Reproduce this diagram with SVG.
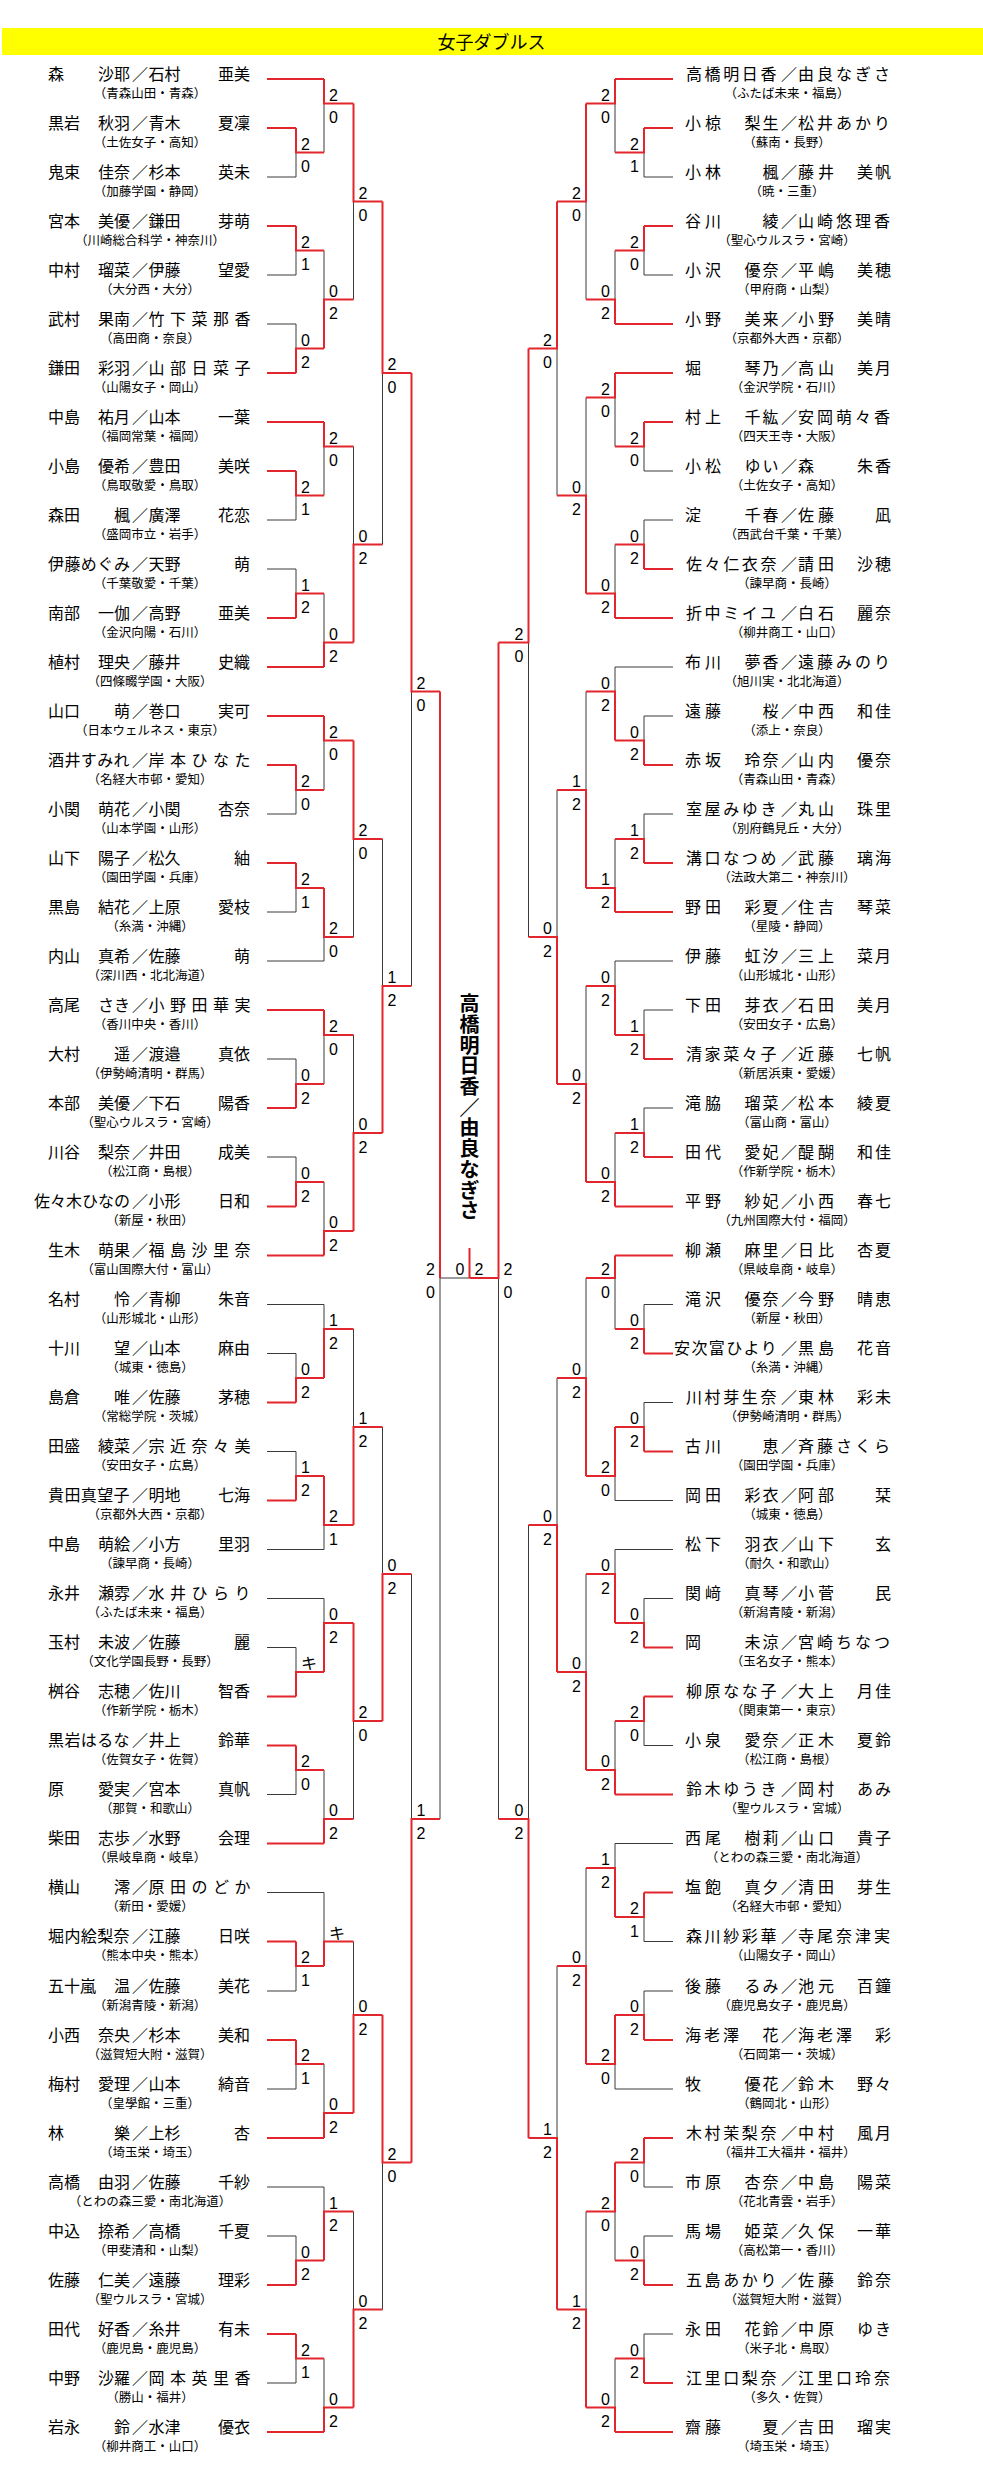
<svg xmlns="http://www.w3.org/2000/svg" width="983" height="2485" viewBox="0 0 983 2485">
<style>
.n{font-family:"Noto Sans CJK JP","Noto Sans CJK SC",sans-serif;font-size:16px;fill:#000}
.nr{letter-spacing:4px}
.g{letter-spacing:2px}
.c{font-family:"Noto Sans CJK JP","Noto Sans CJK SC",sans-serif;font-size:12.5px;fill:#000;text-anchor:middle}
.e{text-anchor:end}
.m{text-anchor:middle;letter-spacing:0}
.s{font-family:"Liberation Sans",Arial,sans-serif;font-size:16px;fill:#000}
.q{font-family:"Noto Sans CJK JP",sans-serif;font-size:16px;fill:#000}
.k{stroke:#3a3a3a;stroke-width:1;fill:none}
.r{stroke:#e3262d;stroke-width:2;fill:none}
.t{font-family:"Noto Sans CJK JP",sans-serif;font-size:18px;fill:#000;text-anchor:middle}
.w{font-family:"Noto Sans CJK JP",sans-serif;font-size:20px;font-weight:700;fill:#000;text-anchor:middle;writing-mode:vertical-rl;font-feature-settings:"vert" 0,"vrt2" 0;letter-spacing:0.7px}
</style>
<rect x="0" y="0" width="983" height="2485" fill="#fff"/>
<g id="title"><rect x="2" y="28" width="981" height="27" fill="#ffff00"/><text class="t" x="491.5" y="49">女子ダブルス</text></g>
<g id="connectors">
<path class="k" d="M267 177H296M267 275H296M267 324H296M267 520H296M267 569H296M267 814H296M267 912H296M267 961H324M267 1059H296M267 1157H296M267 1304.5H324M267 1353.5H296M267 1451.5H296M267 1549.5H324M267 1598.5H324M267 1647.5H296M267 1794.5H296M267 1892.5H324M267 1991H296M267 2089H296M267 2187H324M267 2236H296M267 2383H296"/>
<path class="k" d="M296 152.5V177M296 250.5V275M296 324V348.5M296 495.5V520M296 569V593.5M296 790V814M296 888V912M296 1059V1084M296 1157V1182M296 1353.5V1378M296 1451.5V1476M296 1647.5V1672M296 1770V1794.5M296 1966V1991M296 2064V2089M296 2236V2260.5M296 2358.5V2383"/>
<path class="k" d="M324 103.5V152.5M324 250.5V299.5M324 446.5V495.5M324 593.5V642.5M324 740.5V790M324 937V961M324 1035V1084M324 1182V1231M324 1304.5V1329M324 1525V1549.5M324 1598.5V1623M324 1770V1819M324 1892.5V1941.5M324 2064V2113M324 2187V2211.5M324 2358.5V2407.5"/>
<path class="k" d="M353.5 201.5V299.5M353.5 446.5V544.5M353.5 839V937M353.5 1035V1133M353.5 1329V1427M353.5 1721V1819M353.5 1941.5V2015M353.5 2211.5V2309.5"/>
<path class="k" d="M382.5 373V544.5M382.5 839V986M382.5 1427V1574M382.5 2162.5V2309.5M411.5 691.5V986M411.5 1574V1819M440 1278V1819M440 1278H469.5"/>
<path class="k" d="M673 177H644M673 275H644M673 471H644M673 520H644M673 667H615M673 716H644M673 814H644M673 961H615M673 1010H644M673 1108H644M673 1304.5H644M673 1402.5H644M673 1500.5H615M673 1549.5H615M673 1598.5H644M673 1745.5H644M673 1843.5H615M673 1941.5H644M673 1991H644M673 2089H615M673 2187H644M673 2236H644M673 2334H644"/>
<path class="k" d="M644 152.5V177M644 250.5V275M644 446.5V471M644 520V544.5M644 716V740.5M644 814V839M644 1010V1035M644 1108V1133M644 1304.5V1329M644 1402.5V1427M644 1598.5V1623M644 1721V1745.5M644 1917V1941.5M644 1991V2015M644 2162.5V2187M644 2236V2260.5M644 2334V2358.5"/>
<path class="k" d="M615 103.5V152.5M615 250.5V299.5M615 397.5V446.5M615 544.5V593.5M615 667V691.5M615 839V888M615 961V986M615 1133V1182M615 1278V1329M615 1476V1500.5M615 1549.5V1574M615 1721V1770M615 1843.5V1868M615 2064V2089M615 2211.5V2260.5M615 2358.5V2407.5"/>
<path class="k" d="M586 201.5V299.5M586 397.5V495.5M586 691.5V790M586 986V1084M586 1278V1378M586 1574V1672M586 1868V1966M586 2211.5V2309.5"/>
<path class="k" d="M557 348.5V495.5M557 790V937M557 1378V1525M557 1966V2138M528.5 642.5V937M528.5 1525V1819M498.5 1278V1819"/>
<path class="r" d="M267 79H324M267 128H296M267 226H296M267 373H296M267 422H324M267 471H296M267 618H296M267 667H324M267 716H324M267 765H296M267 863H296M267 1010H324M267 1108H296M267 1206.5H296M267 1255.5H324M267 1402.5H296M267 1500.5H296M267 1696.5H296M267 1745.5H296M267 1843.5H324M267 1941.5H296M267 2040H296M267 2138H324M267 2285H296M267 2334H296M267 2432H324"/>
<path class="r" d="M296 128V152.5H324M296 226V250.5H324M296 373V348.5H324M296 471V495.5H324M296 618V593.5H324M296 765V790H324M296 863V888H324M296 1108V1084H324M296 1206.5V1182H324M296 1402.5V1378H324M296 1500.5V1476H324M296 1696.5V1672H324M296 1745.5V1770H324M296 1941.5V1966H324M296 2040V2064H324M296 2285V2260.5H324M296 2334V2358.5H324"/>
<path class="r" d="M324 79V103.5H353.5M324 348.5V299.5H353.5M324 422V446.5H353.5M324 667V642.5H353.5M324 716V740.5H353.5M324 888V937H353.5M324 1010V1035H353.5M324 1255.5V1231H353.5M324 1378V1329H353.5M324 1476V1525H353.5M324 1672V1623H353.5M324 1843.5V1819H353.5M324 1966V1941.5H353.5M324 2138V2113H353.5M324 2260.5V2211.5H353.5M324 2432V2407.5H353.5"/>
<path class="r" d="M353.5 103.5V201.5H382.5M353.5 642.5V544.5H382.5M353.5 740.5V839H382.5M353.5 1231V1133H382.5M353.5 1525V1427H382.5M353.5 1623V1721H382.5M353.5 2113V2015H382.5M353.5 2407.5V2309.5H382.5"/>
<path class="r" d="M382.5 201.5V373H411.5M382.5 1133V986H411.5M382.5 1721V1574H411.5M382.5 2015V2162.5H411.5M411.5 373V691.5H440M411.5 2162.5V1819H440M440 691.5V1278"/>
<path class="r" d="M673 79H615M673 128H644M673 226H644M673 324H615M673 373H615M673 422H644M673 569H644M673 618H615M673 765H644M673 863H644M673 912H615M673 1059H644M673 1157H644M673 1206.5H615M673 1255.5H615M673 1353.5H644M673 1451.5H644M673 1647.5H644M673 1696.5H644M673 1794.5H615M673 1892.5H644M673 2040H644M673 2138H644M673 2285H644M673 2383H644M673 2432H615"/>
<path class="r" d="M644 128V152.5H615M644 226V250.5H615M644 422V446.5H615M644 569V544.5H615M644 765V740.5H615M644 863V839H615M644 1059V1035H615M644 1157V1133H615M644 1353.5V1329H615M644 1451.5V1427H615M644 1647.5V1623H615M644 1696.5V1721H615M644 1892.5V1917H615M644 2040V2015H615M644 2138V2162.5H615M644 2285V2260.5H615M644 2383V2358.5H615"/>
<path class="r" d="M615 79V103.5H586M615 324V299.5H586M615 373V397.5H586M615 618V593.5H586M615 740.5V691.5H586M615 912V888H586M615 1035V986H586M615 1206.5V1182H586M615 1255.5V1278H586M615 1427V1476H586M615 1623V1574H586M615 1794.5V1770H586M615 1917V1868H586M615 2015V2064H586M615 2162.5V2211.5H586M615 2432V2407.5H586"/>
<path class="r" d="M586 103.5V201.5H557M586 593.5V495.5H557M586 888V790H557M586 1182V1084H557M586 1476V1378H557M586 1770V1672H557M586 2064V1966H557M586 2407.5V2309.5H557"/>
<path class="r" d="M557 201.5V348.5H528.5M557 1084V937H528.5M557 1672V1525H528.5M557 2309.5V2138H528.5M528.5 348.5V642.5H498.5M528.5 2138V1819H498.5M498.5 642.5V1278H469.5M469.5 1248V1278"/>
</g>
<g id="scores">
<text class="s" x="301" y="149.5">2</text><text class="s" x="301" y="172">0</text>
<text class="s" x="301" y="247.5">2</text><text class="s" x="301" y="270">1</text>
<text class="s" x="301" y="345.5">0</text><text class="s" x="301" y="368">2</text>
<text class="s" x="301" y="492.5">2</text><text class="s" x="301" y="515">1</text>
<text class="s" x="301" y="590.5">1</text><text class="s" x="301" y="613">2</text>
<text class="s" x="301" y="787">2</text><text class="s" x="301" y="809.5">0</text>
<text class="s" x="301" y="885">2</text><text class="s" x="301" y="907.5">1</text>
<text class="s" x="301" y="1081">0</text><text class="s" x="301" y="1103.5">2</text>
<text class="s" x="301" y="1179">0</text><text class="s" x="301" y="1201.5">2</text>
<text class="s" x="301" y="1375">0</text><text class="s" x="301" y="1397.5">2</text>
<text class="s" x="301" y="1473">1</text><text class="s" x="301" y="1495.5">2</text>
<text class="q" x="301" y="1669">キ</text>
<text class="s" x="301" y="1767">2</text><text class="s" x="301" y="1789.5">0</text>
<text class="s" x="301" y="1963">2</text><text class="s" x="301" y="1985.5">1</text>
<text class="s" x="301" y="2061">2</text><text class="s" x="301" y="2083.5">1</text>
<text class="s" x="301" y="2257.5">0</text><text class="s" x="301" y="2280">2</text>
<text class="s" x="301" y="2355.5">2</text><text class="s" x="301" y="2378">1</text>
<text class="s" x="329" y="100.5">2</text><text class="s" x="329" y="123">0</text>
<text class="s" x="329" y="296.5">0</text><text class="s" x="329" y="319">2</text>
<text class="s" x="329" y="443.5">2</text><text class="s" x="329" y="466">0</text>
<text class="s" x="329" y="639.5">0</text><text class="s" x="329" y="662">2</text>
<text class="s" x="329" y="737.5">2</text><text class="s" x="329" y="760">0</text>
<text class="s" x="329" y="934">2</text><text class="s" x="329" y="956.5">0</text>
<text class="s" x="329" y="1032">2</text><text class="s" x="329" y="1054.5">0</text>
<text class="s" x="329" y="1228">0</text><text class="s" x="329" y="1250.5">2</text>
<text class="s" x="329" y="1326">1</text><text class="s" x="329" y="1348.5">2</text>
<text class="s" x="329" y="1522">2</text><text class="s" x="329" y="1544.5">1</text>
<text class="s" x="329" y="1620">0</text><text class="s" x="329" y="1642.5">2</text>
<text class="s" x="329" y="1816">0</text><text class="s" x="329" y="1838.5">2</text>
<text class="q" x="329" y="1938.5">キ</text>
<text class="s" x="329" y="2110">0</text><text class="s" x="329" y="2132.5">2</text>
<text class="s" x="329" y="2208.5">1</text><text class="s" x="329" y="2231">2</text>
<text class="s" x="329" y="2404.5">0</text><text class="s" x="329" y="2427">2</text>
<text class="s" x="358.5" y="198.5">2</text><text class="s" x="358.5" y="221">0</text>
<text class="s" x="358.5" y="541.5">0</text><text class="s" x="358.5" y="564">2</text>
<text class="s" x="358.5" y="836">2</text><text class="s" x="358.5" y="858.5">0</text>
<text class="s" x="358.5" y="1130">0</text><text class="s" x="358.5" y="1152.5">2</text>
<text class="s" x="358.5" y="1424">1</text><text class="s" x="358.5" y="1446.5">2</text>
<text class="s" x="358.5" y="1718">2</text><text class="s" x="358.5" y="1740.5">0</text>
<text class="s" x="358.5" y="2012">0</text><text class="s" x="358.5" y="2034.5">2</text>
<text class="s" x="358.5" y="2306.5">0</text><text class="s" x="358.5" y="2329">2</text>
<text class="s" x="387.5" y="370">2</text><text class="s" x="387.5" y="392.5">0</text>
<text class="s" x="387.5" y="983">1</text><text class="s" x="387.5" y="1005.5">2</text>
<text class="s" x="387.5" y="1571">0</text><text class="s" x="387.5" y="1593.5">2</text>
<text class="s" x="387.5" y="2159.5">2</text><text class="s" x="387.5" y="2182">0</text>
<text class="s" x="416.5" y="688.5">2</text><text class="s" x="416.5" y="711">0</text>
<text class="s" x="416.5" y="1816">1</text><text class="s" x="416.5" y="1838.5">2</text>
<text class="s e" x="435" y="1275">2</text><text class="s e" x="435" y="1297.5">0</text>
<text class="s e" x="464.5" y="1275">0</text><text class="s" x="474.5" y="1275">2</text>
<text class="s" x="503.5" y="1275">2</text><text class="s" x="503.5" y="1297.5">0</text>
<text class="s e" x="523.5" y="639.5">2</text><text class="s e" x="523.5" y="662">0</text>
<text class="s e" x="523.5" y="1816">0</text><text class="s e" x="523.5" y="1838.5">2</text>
<text class="s e" x="552" y="345.5">2</text><text class="s e" x="552" y="368">0</text>
<text class="s e" x="552" y="934">0</text><text class="s e" x="552" y="956.5">2</text>
<text class="s e" x="552" y="1522">0</text><text class="s e" x="552" y="1544.5">2</text>
<text class="s e" x="552" y="2135">1</text><text class="s e" x="552" y="2157.5">2</text>
<text class="s e" x="581" y="198.5">2</text><text class="s e" x="581" y="221">0</text>
<text class="s e" x="581" y="492.5">0</text><text class="s e" x="581" y="515">2</text>
<text class="s e" x="581" y="787">1</text><text class="s e" x="581" y="809.5">2</text>
<text class="s e" x="581" y="1081">0</text><text class="s e" x="581" y="1103.5">2</text>
<text class="s e" x="581" y="1375">0</text><text class="s e" x="581" y="1397.5">2</text>
<text class="s e" x="581" y="1669">0</text><text class="s e" x="581" y="1691.5">2</text>
<text class="s e" x="581" y="1963">0</text><text class="s e" x="581" y="1985.5">2</text>
<text class="s e" x="581" y="2306.5">1</text><text class="s e" x="581" y="2329">2</text>
<text class="s e" x="610" y="100.5">2</text><text class="s e" x="610" y="123">0</text>
<text class="s e" x="610" y="296.5">0</text><text class="s e" x="610" y="319">2</text>
<text class="s e" x="610" y="394.5">2</text><text class="s e" x="610" y="417">0</text>
<text class="s e" x="610" y="590.5">0</text><text class="s e" x="610" y="613">2</text>
<text class="s e" x="610" y="688.5">0</text><text class="s e" x="610" y="711">2</text>
<text class="s e" x="610" y="885">1</text><text class="s e" x="610" y="907.5">2</text>
<text class="s e" x="610" y="983">0</text><text class="s e" x="610" y="1005.5">2</text>
<text class="s e" x="610" y="1179">0</text><text class="s e" x="610" y="1201.5">2</text>
<text class="s e" x="610" y="1275">2</text><text class="s e" x="610" y="1297.5">0</text>
<text class="s e" x="610" y="1473">2</text><text class="s e" x="610" y="1495.5">0</text>
<text class="s e" x="610" y="1571">0</text><text class="s e" x="610" y="1593.5">2</text>
<text class="s e" x="610" y="1767">0</text><text class="s e" x="610" y="1789.5">2</text>
<text class="s e" x="610" y="1865">1</text><text class="s e" x="610" y="1887.5">2</text>
<text class="s e" x="610" y="2061">2</text><text class="s e" x="610" y="2083.5">0</text>
<text class="s e" x="610" y="2208.5">2</text><text class="s e" x="610" y="2231">0</text>
<text class="s e" x="610" y="2404.5">0</text><text class="s e" x="610" y="2427">2</text>
<text class="s e" x="639" y="149.5">2</text><text class="s e" x="639" y="172">1</text>
<text class="s e" x="639" y="247.5">2</text><text class="s e" x="639" y="270">0</text>
<text class="s e" x="639" y="443.5">2</text><text class="s e" x="639" y="466">0</text>
<text class="s e" x="639" y="541.5">0</text><text class="s e" x="639" y="564">2</text>
<text class="s e" x="639" y="737.5">0</text><text class="s e" x="639" y="760">2</text>
<text class="s e" x="639" y="836">1</text><text class="s e" x="639" y="858.5">2</text>
<text class="s e" x="639" y="1032">1</text><text class="s e" x="639" y="1054.5">2</text>
<text class="s e" x="639" y="1130">1</text><text class="s e" x="639" y="1152.5">2</text>
<text class="s e" x="639" y="1326">0</text><text class="s e" x="639" y="1348.5">2</text>
<text class="s e" x="639" y="1424">0</text><text class="s e" x="639" y="1446.5">2</text>
<text class="s e" x="639" y="1620">0</text><text class="s e" x="639" y="1642.5">2</text>
<text class="s e" x="639" y="1718">2</text><text class="s e" x="639" y="1740.5">0</text>
<text class="s e" x="639" y="1914">2</text><text class="s e" x="639" y="1936.5">1</text>
<text class="s e" x="639" y="2012">0</text><text class="s e" x="639" y="2034.5">2</text>
<text class="s e" x="639" y="2159.5">2</text><text class="s e" x="639" y="2182">0</text>
<text class="s e" x="639" y="2257.5">0</text><text class="s e" x="639" y="2280">2</text>
<text class="s e" x="639" y="2355.5">0</text><text class="s e" x="639" y="2378">2</text>
</g>
<g id="champion"><text class="w" x="469.5" y="1107.5">高橋明日香／由良なぎさ</text></g>
<g id="L01"><text class="n" y="79.5"><tspan x="48">森</tspan><tspan x="130" class="e">　沙耶</tspan><tspan x="140" class="m">／</tspan><tspan x="148.5">石村</tspan><tspan x="250" class="e">　亜美</tspan></text><text class="c" x="150" y="97.5">（青森山田・青森）</text></g>
<g id="L02"><text class="n" y="128.5"><tspan x="48">黒岩</tspan><tspan x="130" class="e">　秋羽</tspan><tspan x="140" class="m">／</tspan><tspan x="148.5">青木</tspan><tspan x="250" class="e">　夏凜</tspan></text><text class="c" x="150" y="146.5">（土佐女子・高知）</text></g>
<g id="L03"><text class="n" y="177.5"><tspan x="48">鬼束</tspan><tspan x="130" class="e">　佳奈</tspan><tspan x="140" class="m">／</tspan><tspan x="148.5">杉本</tspan><tspan x="250" class="e">　英未</tspan></text><text class="c" x="150" y="195.5">（加藤学園・静岡）</text></g>
<g id="L04"><text class="n" y="226.5"><tspan x="48">宮本</tspan><tspan x="130" class="e">　美優</tspan><tspan x="140" class="m">／</tspan><tspan x="148.5">鎌田</tspan><tspan x="250" class="e">　芽萌</tspan></text><text class="c" x="150" y="244.5">（川崎総合科学・神奈川）</text></g>
<g id="L05"><text class="n" y="275.5"><tspan x="48">中村</tspan><tspan x="130" class="e">　瑠菜</tspan><tspan x="140" class="m">／</tspan><tspan x="148.5">伊藤</tspan><tspan x="250" class="e">　望愛</tspan></text><text class="c" x="150" y="293.5">（大分西・大分）</text></g>
<g id="L06"><text class="n" y="324.5"><tspan x="48">武村</tspan><tspan x="130" class="e">　果南</tspan><tspan x="140" class="m">／</tspan><tspan x="148.5" style="letter-spacing:5.5px">竹下菜那香</tspan></text><text class="c" x="150" y="342.5">（高田商・奈良）</text></g>
<g id="L07"><text class="n" y="373.5"><tspan x="48">鎌田</tspan><tspan x="130" class="e">　彩羽</tspan><tspan x="140" class="m">／</tspan><tspan x="148.5" style="letter-spacing:5.5px">山部日菜子</tspan></text><text class="c" x="150" y="391.5">（山陽女子・岡山）</text></g>
<g id="L08"><text class="n" y="422.5"><tspan x="48">中島</tspan><tspan x="130" class="e">　祐月</tspan><tspan x="140" class="m">／</tspan><tspan x="148.5">山本</tspan><tspan x="250" class="e">　一葉</tspan></text><text class="c" x="150" y="440.5">（福岡常葉・福岡）</text></g>
<g id="L09"><text class="n" y="471.5"><tspan x="48">小島</tspan><tspan x="130" class="e">　優希</tspan><tspan x="140" class="m">／</tspan><tspan x="148.5">豊田</tspan><tspan x="250" class="e">　美咲</tspan></text><text class="c" x="150" y="489.5">（鳥取敬愛・鳥取）</text></g>
<g id="L10"><text class="n" y="520.5"><tspan x="48">森田</tspan><tspan x="130" class="e">　楓</tspan><tspan x="140" class="m">／</tspan><tspan x="148.5">廣澤</tspan><tspan x="250" class="e">　花恋</tspan></text><text class="c" x="150" y="538.5">（盛岡市立・岩手）</text></g>
<g id="L11"><text class="n" y="569.5"><tspan x="48" style="letter-spacing:.4px">伊藤めぐみ</tspan><tspan x="140" class="m">／</tspan><tspan x="148.5">天野</tspan><tspan x="250" class="e">　萌</tspan></text><text class="c" x="150" y="587.5">（千葉敬愛・千葉）</text></g>
<g id="L12"><text class="n" y="618.5"><tspan x="48">南部</tspan><tspan x="130" class="e">　一伽</tspan><tspan x="140" class="m">／</tspan><tspan x="148.5">高野</tspan><tspan x="250" class="e">　亜美</tspan></text><text class="c" x="150" y="636.5">（金沢向陽・石川）</text></g>
<g id="L13"><text class="n" y="667.5"><tspan x="48">植村</tspan><tspan x="130" class="e">　理央</tspan><tspan x="140" class="m">／</tspan><tspan x="148.5">藤井</tspan><tspan x="250" class="e">　史織</tspan></text><text class="c" x="150" y="685.5">（四條畷学園・大阪）</text></g>
<g id="L14"><text class="n" y="716.5"><tspan x="48">山口</tspan><tspan x="130" class="e">　萌</tspan><tspan x="140" class="m">／</tspan><tspan x="148.5">巻口</tspan><tspan x="250" class="e">　実可</tspan></text><text class="c" x="150" y="734.5">（日本ウェルネス・東京）</text></g>
<g id="L15"><text class="n" y="765.5"><tspan x="48" style="letter-spacing:.4px">酒井すみれ</tspan><tspan x="140" class="m">／</tspan><tspan x="148.5" style="letter-spacing:5.5px">岸本ひなた</tspan></text><text class="c" x="150" y="783.5">（名経大市邨・愛知）</text></g>
<g id="L16"><text class="n" y="814.5"><tspan x="48">小関</tspan><tspan x="130" class="e">　萌花</tspan><tspan x="140" class="m">／</tspan><tspan x="148.5">小関</tspan><tspan x="250" class="e">　杏奈</tspan></text><text class="c" x="150" y="832.5">（山本学園・山形）</text></g>
<g id="L17"><text class="n" y="863.5"><tspan x="48">山下</tspan><tspan x="130" class="e">　陽子</tspan><tspan x="140" class="m">／</tspan><tspan x="148.5">松久</tspan><tspan x="250" class="e">　紬</tspan></text><text class="c" x="150" y="881.5">（園田学園・兵庫）</text></g>
<g id="L18"><text class="n" y="912.5"><tspan x="48">黒島</tspan><tspan x="130" class="e">　結花</tspan><tspan x="140" class="m">／</tspan><tspan x="148.5">上原</tspan><tspan x="250" class="e">　愛枝</tspan></text><text class="c" x="150" y="930.5">（糸満・沖縄）</text></g>
<g id="L19"><text class="n" y="961.5"><tspan x="48">内山</tspan><tspan x="130" class="e">　真希</tspan><tspan x="140" class="m">／</tspan><tspan x="148.5">佐藤</tspan><tspan x="250" class="e">　萌</tspan></text><text class="c" x="150" y="979.5">（深川西・北北海道）</text></g>
<g id="L20"><text class="n" y="1010.5"><tspan x="48">高尾</tspan><tspan x="130" class="e">　さき</tspan><tspan x="140" class="m">／</tspan><tspan x="148.5" style="letter-spacing:5.5px">小野田華実</tspan></text><text class="c" x="150" y="1028.5">（香川中央・香川）</text></g>
<g id="L21"><text class="n" y="1059.5"><tspan x="48">大村</tspan><tspan x="130" class="e">　遥</tspan><tspan x="140" class="m">／</tspan><tspan x="148.5">渡邉</tspan><tspan x="250" class="e">　真依</tspan></text><text class="c" x="150" y="1077.5">（伊勢崎清明・群馬）</text></g>
<g id="L22"><text class="n" y="1108.5"><tspan x="48">本部</tspan><tspan x="130" class="e">　美優</tspan><tspan x="140" class="m">／</tspan><tspan x="148.5">下石</tspan><tspan x="250" class="e">　陽香</tspan></text><text class="c" x="150" y="1126.5">（聖心ウルスラ・宮崎）</text></g>
<g id="L23"><text class="n" y="1157.5"><tspan x="48">川谷</tspan><tspan x="130" class="e">　梨奈</tspan><tspan x="140" class="m">／</tspan><tspan x="148.5">井田</tspan><tspan x="250" class="e">　成美</tspan></text><text class="c" x="150" y="1175.5">（松江商・島根）</text></g>
<g id="L24"><text class="n" y="1207"><tspan x="34">佐々木ひなの</tspan><tspan x="140" class="m">／</tspan><tspan x="148.5">小形</tspan><tspan x="250" class="e">　日和</tspan></text><text class="c" x="150" y="1225">（新屋・秋田）</text></g>
<g id="L25"><text class="n" y="1256"><tspan x="48">生木</tspan><tspan x="130" class="e">　萌果</tspan><tspan x="140" class="m">／</tspan><tspan x="148.5" style="letter-spacing:5.5px">福島沙里奈</tspan></text><text class="c" x="150" y="1274">（富山国際大付・富山）</text></g>
<g id="L26"><text class="n" y="1305"><tspan x="48">名村</tspan><tspan x="130" class="e">　怜</tspan><tspan x="140" class="m">／</tspan><tspan x="148.5">青柳</tspan><tspan x="250" class="e">　朱音</tspan></text><text class="c" x="150" y="1323">（山形城北・山形）</text></g>
<g id="L27"><text class="n" y="1354"><tspan x="48">十川</tspan><tspan x="130" class="e">　望</tspan><tspan x="140" class="m">／</tspan><tspan x="148.5">山本</tspan><tspan x="250" class="e">　麻由</tspan></text><text class="c" x="150" y="1372">（城東・徳島）</text></g>
<g id="L28"><text class="n" y="1403"><tspan x="48">島倉</tspan><tspan x="130" class="e">　唯</tspan><tspan x="140" class="m">／</tspan><tspan x="148.5">佐藤</tspan><tspan x="250" class="e">　茅穂</tspan></text><text class="c" x="150" y="1421">（常総学院・茨城）</text></g>
<g id="L29"><text class="n" y="1452"><tspan x="48">田盛</tspan><tspan x="130" class="e">　綾菜</tspan><tspan x="140" class="m">／</tspan><tspan x="148.5" style="letter-spacing:5.5px">宗近奈々美</tspan></text><text class="c" x="150" y="1470">（安田女子・広島）</text></g>
<g id="L30"><text class="n" y="1501"><tspan x="48" style="letter-spacing:.4px">貴田真望子</tspan><tspan x="140" class="m">／</tspan><tspan x="148.5">明地</tspan><tspan x="250" class="e">　七海</tspan></text><text class="c" x="150" y="1519">（京都外大西・京都）</text></g>
<g id="L31"><text class="n" y="1550"><tspan x="48">中島</tspan><tspan x="130" class="e">　萌絵</tspan><tspan x="140" class="m">／</tspan><tspan x="148.5">小方</tspan><tspan x="250" class="e">　里羽</tspan></text><text class="c" x="150" y="1568">（諫早商・長崎）</text></g>
<g id="L32"><text class="n" y="1599"><tspan x="48">永井</tspan><tspan x="130" class="e">　瀬雰</tspan><tspan x="140" class="m">／</tspan><tspan x="148.5" style="letter-spacing:5.5px">水井ひらり</tspan></text><text class="c" x="150" y="1617">（ふたば未来・福島）</text></g>
<g id="L33"><text class="n" y="1648"><tspan x="48">玉村</tspan><tspan x="130" class="e">　未波</tspan><tspan x="140" class="m">／</tspan><tspan x="148.5">佐藤</tspan><tspan x="250" class="e">　麗</tspan></text><text class="c" x="150" y="1666">（文化学園長野・長野）</text></g>
<g id="L34"><text class="n" y="1697"><tspan x="48">桝谷</tspan><tspan x="130" class="e">　志穂</tspan><tspan x="140" class="m">／</tspan><tspan x="148.5">佐川</tspan><tspan x="250" class="e">　智香</tspan></text><text class="c" x="150" y="1715">（作新学院・栃木）</text></g>
<g id="L35"><text class="n" y="1746"><tspan x="48" style="letter-spacing:.4px">黒岩はるな</tspan><tspan x="140" class="m">／</tspan><tspan x="148.5">井上</tspan><tspan x="250" class="e">　鈴華</tspan></text><text class="c" x="150" y="1764">（佐賀女子・佐賀）</text></g>
<g id="L36"><text class="n" y="1795"><tspan x="48">原</tspan><tspan x="130" class="e">　愛実</tspan><tspan x="140" class="m">／</tspan><tspan x="148.5">宮本</tspan><tspan x="250" class="e">　真帆</tspan></text><text class="c" x="150" y="1813">（那賀・和歌山）</text></g>
<g id="L37"><text class="n" y="1844"><tspan x="48">柴田</tspan><tspan x="130" class="e">　志歩</tspan><tspan x="140" class="m">／</tspan><tspan x="148.5">水野</tspan><tspan x="250" class="e">　会理</tspan></text><text class="c" x="150" y="1862">（県岐阜商・岐阜）</text></g>
<g id="L38"><text class="n" y="1893"><tspan x="48">横山</tspan><tspan x="130" class="e">　澪</tspan><tspan x="140" class="m">／</tspan><tspan x="148.5" style="letter-spacing:5.5px">原田のどか</tspan></text><text class="c" x="150" y="1911">（新田・愛媛）</text></g>
<g id="L39"><text class="n" y="1942"><tspan x="48" style="letter-spacing:.4px">堀内絵梨奈</tspan><tspan x="140" class="m">／</tspan><tspan x="148.5">江藤</tspan><tspan x="250" class="e">　日咲</tspan></text><text class="c" x="150" y="1960">（熊本中央・熊本）</text></g>
<g id="L40"><text class="n" y="1991.5"><tspan x="48">五十嵐</tspan><tspan x="130" class="e">　温</tspan><tspan x="140" class="m">／</tspan><tspan x="148.5">佐藤</tspan><tspan x="250" class="e">　美花</tspan></text><text class="c" x="150" y="2009.5">（新潟青陵・新潟）</text></g>
<g id="L41"><text class="n" y="2040.5"><tspan x="48">小西</tspan><tspan x="130" class="e">　奈央</tspan><tspan x="140" class="m">／</tspan><tspan x="148.5">杉本</tspan><tspan x="250" class="e">　美和</tspan></text><text class="c" x="150" y="2058.5">（滋賀短大附・滋賀）</text></g>
<g id="L42"><text class="n" y="2089.5"><tspan x="48">梅村</tspan><tspan x="130" class="e">　愛理</tspan><tspan x="140" class="m">／</tspan><tspan x="148.5">山本</tspan><tspan x="250" class="e">　綺音</tspan></text><text class="c" x="150" y="2107.5">（皇學館・三重）</text></g>
<g id="L43"><text class="n" y="2138.5"><tspan x="48">林</tspan><tspan x="130" class="e">　樂</tspan><tspan x="140" class="m">／</tspan><tspan x="148.5">上杉</tspan><tspan x="250" class="e">　杏</tspan></text><text class="c" x="150" y="2156.5">（埼玉栄・埼玉）</text></g>
<g id="L44"><text class="n" y="2187.5"><tspan x="48">高橋</tspan><tspan x="130" class="e">　由羽</tspan><tspan x="140" class="m">／</tspan><tspan x="148.5">佐藤</tspan><tspan x="250" class="e">　千紗</tspan></text><text class="c" x="150" y="2205.5">（とわの森三愛・南北海道）</text></g>
<g id="L45"><text class="n" y="2236.5"><tspan x="48">中込</tspan><tspan x="130" class="e">　捺希</tspan><tspan x="140" class="m">／</tspan><tspan x="148.5">高橋</tspan><tspan x="250" class="e">　千夏</tspan></text><text class="c" x="150" y="2254.5">（甲斐清和・山梨）</text></g>
<g id="L46"><text class="n" y="2285.5"><tspan x="48">佐藤</tspan><tspan x="130" class="e">　仁美</tspan><tspan x="140" class="m">／</tspan><tspan x="148.5">遠藤</tspan><tspan x="250" class="e">　理彩</tspan></text><text class="c" x="150" y="2303.5">（聖ウルスラ・宮城）</text></g>
<g id="L47"><text class="n" y="2334.5"><tspan x="48">田代</tspan><tspan x="130" class="e">　好香</tspan><tspan x="140" class="m">／</tspan><tspan x="148.5">糸井</tspan><tspan x="250" class="e">　有未</tspan></text><text class="c" x="150" y="2352.5">（鹿児島・鹿児島）</text></g>
<g id="L48"><text class="n" y="2383.5"><tspan x="48">中野</tspan><tspan x="130" class="e">　沙羅</tspan><tspan x="140" class="m">／</tspan><tspan x="148.5" style="letter-spacing:5.5px">岡本英里香</tspan></text><text class="c" x="150" y="2401.5">（勝山・福井）</text></g>
<g id="L49"><text class="n" y="2432.5"><tspan x="48">岩永</tspan><tspan x="130" class="e">　鈴</tspan><tspan x="140" class="m">／</tspan><tspan x="148.5">水津</tspan><tspan x="250" class="e">　優衣</tspan></text><text class="c" x="150" y="2450.5">（柳井商工・山口）</text></g>
<g id="R01"><text class="n nr" y="79.5"><tspan x="686" style="letter-spacing:2.6px">高橋明日香</tspan><tspan x="789" class="m">／</tspan><tspan x="798" style="letter-spacing:3px">由良なぎさ</tspan></text><text class="c" x="787" y="97.5">（ふたば未来・福島）</text></g>
<g id="R02"><text class="n nr" y="128.5"><tspan x="685">小椋</tspan><tspan x="780.5" class="e g">　梨生</tspan><tspan x="789" class="m">／</tspan><tspan x="798" style="letter-spacing:3px">松井あかり</tspan></text><text class="c" x="787" y="146.5">（蘇南・長野）</text></g>
<g id="R03"><text class="n nr" y="177.5"><tspan x="685">小林</tspan><tspan x="780.5" class="e g">　楓</tspan><tspan x="789" class="m">／</tspan><tspan x="798">藤井</tspan><tspan x="893" class="e g">　美帆</tspan></text><text class="c" x="787" y="195.5">（暁・三重）</text></g>
<g id="R04"><text class="n nr" y="226.5"><tspan x="685">谷川</tspan><tspan x="780.5" class="e g">　綾</tspan><tspan x="789" class="m">／</tspan><tspan x="798" style="letter-spacing:3px">山崎悠理香</tspan></text><text class="c" x="787" y="244.5">（聖心ウルスラ・宮崎）</text></g>
<g id="R05"><text class="n nr" y="275.5"><tspan x="685">小沢</tspan><tspan x="780.5" class="e g">　優奈</tspan><tspan x="789" class="m">／</tspan><tspan x="798">平嶋</tspan><tspan x="893" class="e g">　美穂</tspan></text><text class="c" x="787" y="293.5">（甲府商・山梨）</text></g>
<g id="R06"><text class="n nr" y="324.5"><tspan x="685">小野</tspan><tspan x="780.5" class="e g">　美来</tspan><tspan x="789" class="m">／</tspan><tspan x="798">小野</tspan><tspan x="893" class="e g">　美晴</tspan></text><text class="c" x="787" y="342.5">（京都外大西・京都）</text></g>
<g id="R07"><text class="n nr" y="373.5"><tspan x="685">堀</tspan><tspan x="780.5" class="e g">　琴乃</tspan><tspan x="789" class="m">／</tspan><tspan x="798">高山</tspan><tspan x="893" class="e g">　美月</tspan></text><text class="c" x="787" y="391.5">（金沢学院・石川）</text></g>
<g id="R08"><text class="n nr" y="422.5"><tspan x="685">村上</tspan><tspan x="780.5" class="e g">　千紘</tspan><tspan x="789" class="m">／</tspan><tspan x="798" style="letter-spacing:3px">安岡萌々香</tspan></text><text class="c" x="787" y="440.5">（四天王寺・大阪）</text></g>
<g id="R09"><text class="n nr" y="471.5"><tspan x="685">小松</tspan><tspan x="780.5" class="e g">　ゆい</tspan><tspan x="789" class="m">／</tspan><tspan x="798">森</tspan><tspan x="893" class="e g">　朱香</tspan></text><text class="c" x="787" y="489.5">（土佐女子・高知）</text></g>
<g id="R10"><text class="n nr" y="520.5"><tspan x="685">淀</tspan><tspan x="780.5" class="e g">　千春</tspan><tspan x="789" class="m">／</tspan><tspan x="798">佐藤</tspan><tspan x="893" class="e g">　凪</tspan></text><text class="c" x="787" y="538.5">（西武台千葉・千葉）</text></g>
<g id="R11"><text class="n nr" y="569.5"><tspan x="686" style="letter-spacing:2.6px">佐々仁衣奈</tspan><tspan x="789" class="m">／</tspan><tspan x="798">請田</tspan><tspan x="893" class="e g">　沙穂</tspan></text><text class="c" x="787" y="587.5">（諫早商・長崎）</text></g>
<g id="R12"><text class="n nr" y="618.5"><tspan x="686" style="letter-spacing:2.6px">折中ミイユ</tspan><tspan x="789" class="m">／</tspan><tspan x="798">白石</tspan><tspan x="893" class="e g">　麗奈</tspan></text><text class="c" x="787" y="636.5">（柳井商工・山口）</text></g>
<g id="R13"><text class="n nr" y="667.5"><tspan x="685">布川</tspan><tspan x="780.5" class="e g">　夢香</tspan><tspan x="789" class="m">／</tspan><tspan x="798" style="letter-spacing:3px">遠藤みのり</tspan></text><text class="c" x="787" y="685.5">（旭川実・北北海道）</text></g>
<g id="R14"><text class="n nr" y="716.5"><tspan x="685">遠藤</tspan><tspan x="780.5" class="e g">　桜</tspan><tspan x="789" class="m">／</tspan><tspan x="798">中西</tspan><tspan x="893" class="e g">　和佳</tspan></text><text class="c" x="787" y="734.5">（添上・奈良）</text></g>
<g id="R15"><text class="n nr" y="765.5"><tspan x="685">赤坂</tspan><tspan x="780.5" class="e g">　玲奈</tspan><tspan x="789" class="m">／</tspan><tspan x="798">山内</tspan><tspan x="893" class="e g">　優奈</tspan></text><text class="c" x="787" y="783.5">（青森山田・青森）</text></g>
<g id="R16"><text class="n nr" y="814.5"><tspan x="686" style="letter-spacing:2.6px">室屋みゆき</tspan><tspan x="789" class="m">／</tspan><tspan x="798">丸山</tspan><tspan x="893" class="e g">　珠里</tspan></text><text class="c" x="787" y="832.5">（別府鶴見丘・大分）</text></g>
<g id="R17"><text class="n nr" y="863.5"><tspan x="686" style="letter-spacing:2.6px">溝口なつめ</tspan><tspan x="789" class="m">／</tspan><tspan x="798">武藤</tspan><tspan x="893" class="e g">　璃海</tspan></text><text class="c" x="787" y="881.5">（法政大第二・神奈川）</text></g>
<g id="R18"><text class="n nr" y="912.5"><tspan x="685">野田</tspan><tspan x="780.5" class="e g">　彩夏</tspan><tspan x="789" class="m">／</tspan><tspan x="798">住吉</tspan><tspan x="893" class="e g">　琴菜</tspan></text><text class="c" x="787" y="930.5">（星陵・静岡）</text></g>
<g id="R19"><text class="n nr" y="961.5"><tspan x="685">伊藤</tspan><tspan x="780.5" class="e g">　虹汐</tspan><tspan x="789" class="m">／</tspan><tspan x="798">三上</tspan><tspan x="893" class="e g">　菜月</tspan></text><text class="c" x="787" y="979.5">（山形城北・山形）</text></g>
<g id="R20"><text class="n nr" y="1010.5"><tspan x="685">下田</tspan><tspan x="780.5" class="e g">　芽衣</tspan><tspan x="789" class="m">／</tspan><tspan x="798">石田</tspan><tspan x="893" class="e g">　美月</tspan></text><text class="c" x="787" y="1028.5">（安田女子・広島）</text></g>
<g id="R21"><text class="n nr" y="1059.5"><tspan x="686" style="letter-spacing:2.6px">清家菜々子</tspan><tspan x="789" class="m">／</tspan><tspan x="798">近藤</tspan><tspan x="893" class="e g">　七帆</tspan></text><text class="c" x="787" y="1077.5">（新居浜東・愛媛）</text></g>
<g id="R22"><text class="n nr" y="1108.5"><tspan x="685">滝脇</tspan><tspan x="780.5" class="e g">　瑠菜</tspan><tspan x="789" class="m">／</tspan><tspan x="798">松本</tspan><tspan x="893" class="e g">　綾夏</tspan></text><text class="c" x="787" y="1126.5">（富山商・富山）</text></g>
<g id="R23"><text class="n nr" y="1157.5"><tspan x="685">田代</tspan><tspan x="780.5" class="e g">　愛妃</tspan><tspan x="789" class="m">／</tspan><tspan x="798">醍醐</tspan><tspan x="893" class="e g">　和佳</tspan></text><text class="c" x="787" y="1175.5">（作新学院・栃木）</text></g>
<g id="R24"><text class="n nr" y="1207"><tspan x="685">平野</tspan><tspan x="780.5" class="e g">　紗妃</tspan><tspan x="789" class="m">／</tspan><tspan x="798">小西</tspan><tspan x="893" class="e g">　春七</tspan></text><text class="c" x="787" y="1225">（九州国際大付・福岡）</text></g>
<g id="R25"><text class="n nr" y="1256"><tspan x="685">柳瀬</tspan><tspan x="780.5" class="e g">　麻里</tspan><tspan x="789" class="m">／</tspan><tspan x="798">日比</tspan><tspan x="893" class="e g">　杏夏</tspan></text><text class="c" x="787" y="1274">（県岐阜商・岐阜）</text></g>
<g id="R26"><text class="n nr" y="1305"><tspan x="685">滝沢</tspan><tspan x="780.5" class="e g">　優奈</tspan><tspan x="789" class="m">／</tspan><tspan x="798">今野</tspan><tspan x="893" class="e g">　晴恵</tspan></text><text class="c" x="787" y="1323">（新屋・秋田）</text></g>
<g id="R27"><text class="n nr" y="1354"><tspan x="674" style="letter-spacing:1.4px">安次富ひより</tspan><tspan x="789" class="m">／</tspan><tspan x="798">黒島</tspan><tspan x="893" class="e g">　花音</tspan></text><text class="c" x="787" y="1372">（糸満・沖縄）</text></g>
<g id="R28"><text class="n nr" y="1403"><tspan x="686" style="letter-spacing:2.6px">川村芽生奈</tspan><tspan x="789" class="m">／</tspan><tspan x="798">東林</tspan><tspan x="893" class="e g">　彩未</tspan></text><text class="c" x="787" y="1421">（伊勢崎清明・群馬）</text></g>
<g id="R29"><text class="n nr" y="1452"><tspan x="685">古川</tspan><tspan x="780.5" class="e g">　恵</tspan><tspan x="789" class="m">／</tspan><tspan x="798" style="letter-spacing:3px">斉藤さくら</tspan></text><text class="c" x="787" y="1470">（園田学園・兵庫）</text></g>
<g id="R30"><text class="n nr" y="1501"><tspan x="685">岡田</tspan><tspan x="780.5" class="e g">　彩衣</tspan><tspan x="789" class="m">／</tspan><tspan x="798">阿部</tspan><tspan x="893" class="e g">　栞</tspan></text><text class="c" x="787" y="1519">（城東・徳島）</text></g>
<g id="R31"><text class="n nr" y="1550"><tspan x="685">松下</tspan><tspan x="780.5" class="e g">　羽衣</tspan><tspan x="789" class="m">／</tspan><tspan x="798">山下</tspan><tspan x="893" class="e g">　玄</tspan></text><text class="c" x="787" y="1568">（耐久・和歌山）</text></g>
<g id="R32"><text class="n nr" y="1599"><tspan x="685">関﨑</tspan><tspan x="780.5" class="e g">　真琴</tspan><tspan x="789" class="m">／</tspan><tspan x="798">小菅</tspan><tspan x="893" class="e g">　民</tspan></text><text class="c" x="787" y="1617">（新潟青陵・新潟）</text></g>
<g id="R33"><text class="n nr" y="1648"><tspan x="685">岡</tspan><tspan x="780.5" class="e g">　未涼</tspan><tspan x="789" class="m">／</tspan><tspan x="798" style="letter-spacing:3px">宮崎ちなつ</tspan></text><text class="c" x="787" y="1666">（玉名女子・熊本）</text></g>
<g id="R34"><text class="n nr" y="1697"><tspan x="686" style="letter-spacing:2.6px">柳原なな子</tspan><tspan x="789" class="m">／</tspan><tspan x="798">大上</tspan><tspan x="893" class="e g">　月佳</tspan></text><text class="c" x="787" y="1715">（関東第一・東京）</text></g>
<g id="R35"><text class="n nr" y="1746"><tspan x="685">小泉</tspan><tspan x="780.5" class="e g">　愛奈</tspan><tspan x="789" class="m">／</tspan><tspan x="798">正木</tspan><tspan x="893" class="e g">　夏鈴</tspan></text><text class="c" x="787" y="1764">（松江商・島根）</text></g>
<g id="R36"><text class="n nr" y="1795"><tspan x="686" style="letter-spacing:2.6px">鈴木ゆうき</tspan><tspan x="789" class="m">／</tspan><tspan x="798">岡村</tspan><tspan x="893" class="e g">　あみ</tspan></text><text class="c" x="787" y="1813">（聖ウルスラ・宮城）</text></g>
<g id="R37"><text class="n nr" y="1844"><tspan x="685">西尾</tspan><tspan x="780.5" class="e g">　樹莉</tspan><tspan x="789" class="m">／</tspan><tspan x="798">山口</tspan><tspan x="893" class="e g">　貴子</tspan></text><text class="c" x="787" y="1862">（とわの森三愛・南北海道）</text></g>
<g id="R38"><text class="n nr" y="1893"><tspan x="685">塩飽</tspan><tspan x="780.5" class="e g">　真夕</tspan><tspan x="789" class="m">／</tspan><tspan x="798">清田</tspan><tspan x="893" class="e g">　芽生</tspan></text><text class="c" x="787" y="1911">（名経大市邨・愛知）</text></g>
<g id="R39"><text class="n nr" y="1942"><tspan x="686" style="letter-spacing:2.6px">森川紗彩華</tspan><tspan x="789" class="m">／</tspan><tspan x="798" style="letter-spacing:3px">寺尾奈津実</tspan></text><text class="c" x="787" y="1960">（山陽女子・岡山）</text></g>
<g id="R40"><text class="n nr" y="1991.5"><tspan x="685">後藤</tspan><tspan x="780.5" class="e g">　るみ</tspan><tspan x="789" class="m">／</tspan><tspan x="798">池元</tspan><tspan x="893" class="e g">　百鐘</tspan></text><text class="c" x="787" y="2009.5">（鹿児島女子・鹿児島）</text></g>
<g id="R41"><text class="n nr" y="2040.5"><tspan x="685" style="letter-spacing:3px">海老澤</tspan><tspan x="780.5" class="e g">　花</tspan><tspan x="789" class="m">／</tspan><tspan x="798" style="letter-spacing:3px">海老澤</tspan><tspan x="893" class="e g">　彩</tspan></text><text class="c" x="787" y="2058.5">（石岡第一・茨城）</text></g>
<g id="R42"><text class="n nr" y="2089.5"><tspan x="685">牧</tspan><tspan x="780.5" class="e g">　優花</tspan><tspan x="789" class="m">／</tspan><tspan x="798">鈴木</tspan><tspan x="893" class="e g">　野々</tspan></text><text class="c" x="787" y="2107.5">（鶴岡北・山形）</text></g>
<g id="R43"><text class="n nr" y="2138.5"><tspan x="686" style="letter-spacing:2.6px">木村茉梨奈</tspan><tspan x="789" class="m">／</tspan><tspan x="798">中村</tspan><tspan x="893" class="e g">　風月</tspan></text><text class="c" x="787" y="2156.5">（福井工大福井・福井）</text></g>
<g id="R44"><text class="n nr" y="2187.5"><tspan x="685">市原</tspan><tspan x="780.5" class="e g">　杏奈</tspan><tspan x="789" class="m">／</tspan><tspan x="798">中島</tspan><tspan x="893" class="e g">　陽菜</tspan></text><text class="c" x="787" y="2205.5">（花北青雲・岩手）</text></g>
<g id="R45"><text class="n nr" y="2236.5"><tspan x="685">馬場</tspan><tspan x="780.5" class="e g">　姫菜</tspan><tspan x="789" class="m">／</tspan><tspan x="798">久保</tspan><tspan x="893" class="e g">　一華</tspan></text><text class="c" x="787" y="2254.5">（高松第一・香川）</text></g>
<g id="R46"><text class="n nr" y="2285.5"><tspan x="686" style="letter-spacing:2.6px">五島あかり</tspan><tspan x="789" class="m">／</tspan><tspan x="798">佐藤</tspan><tspan x="893" class="e g">　鈴奈</tspan></text><text class="c" x="787" y="2303.5">（滋賀短大附・滋賀）</text></g>
<g id="R47"><text class="n nr" y="2334.5"><tspan x="685">永田</tspan><tspan x="780.5" class="e g">　花鈴</tspan><tspan x="789" class="m">／</tspan><tspan x="798">中原</tspan><tspan x="893" class="e g">　ゆき</tspan></text><text class="c" x="787" y="2352.5">（米子北・鳥取）</text></g>
<g id="R48"><text class="n nr" y="2383.5"><tspan x="686" style="letter-spacing:2.6px">江里口梨奈</tspan><tspan x="789" class="m">／</tspan><tspan x="798" style="letter-spacing:3px">江里口玲奈</tspan></text><text class="c" x="787" y="2401.5">（多久・佐賀）</text></g>
<g id="R49"><text class="n nr" y="2432.5"><tspan x="685">齋藤</tspan><tspan x="780.5" class="e g">　夏</tspan><tspan x="789" class="m">／</tspan><tspan x="798">吉田</tspan><tspan x="893" class="e g">　瑠実</tspan></text><text class="c" x="787" y="2450.5">（埼玉栄・埼玉）</text></g>
</svg>
